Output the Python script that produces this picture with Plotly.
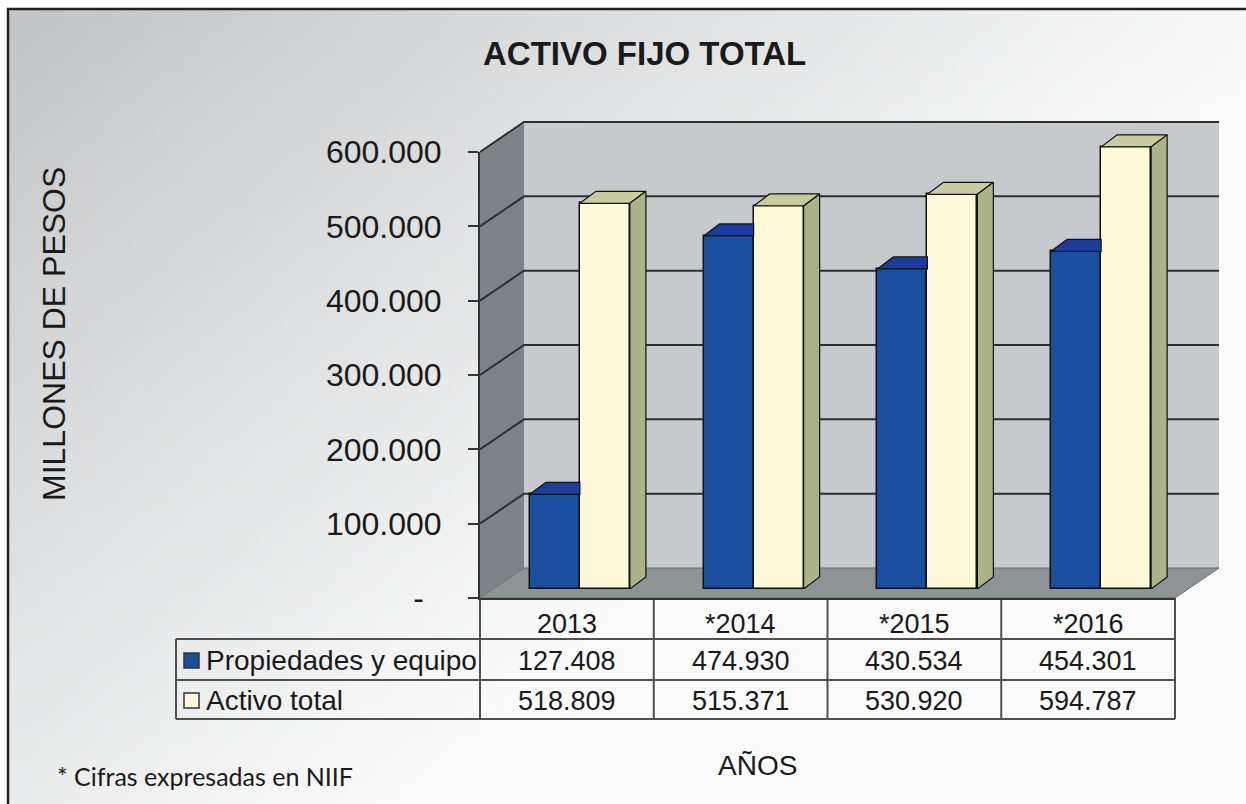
import base64
import struct
import zlib

import numpy as np
import plotly.graph_objects as go

# ---------------- data ----------------
years = ["2013", "*2014", "*2015", "*2016"]
propiedades_y_equipo = [127408, 474930, 430534, 454301]
activo_total = [518809, 515371, 530920, 594787]
series_names = ["Propiedades y equipo", "Activo total"]
y_tick_values = [0, 100000, 200000, 300000, 400000, 500000, 600000]
y_tick_labels = ["-", "100.000", "200.000", "300.000", "400.000", "500.000", "600.000"]

# ---------------- geometry / style ----------------
W, H = 1246, 804
FX0, FX1 = 480, 1175          # front plane x extent (pixels)
FY0, FY1 = 598, 152           # front plane y pixel for 0 and YMAX
YMAX = 600000
NCAT = len(years)
CAT_W = (FX1 - FX0) / NCAT
SC = (FY0 - FY1) / YMAX       # pixels per unit
BACK = (44, -30)              # back wall offset
BARP = (13, -9)               # bar plane offset
DEPTH = (16, -12)             # bar depth
BAR_PX = 50

FONT = "Liberation Sans, Arial, sans-serif"
TXT = "#1a1a1a"
BLUE, BLUE_TOP = "#1a4ea1", "#1c3d9b"
CREAM, CREAM_TOP, CREAM_SIDE = "#fdf9d9", "#c9cc9e", "#acb389"
GRID = "#2e2e2e"
TABLE_LINE = "#505050"


def fp(plane, cx, v):
    """category coordinate + value -> pixel, in a plane offset."""
    return (FX0 + (cx + 0.5) * CAT_W + plane[0], FY0 - v * SC + plane[1])


def path(points, close=True):
    s = "M " + " L ".join(f"{X / W:.5f},{1 - Y / H:.5f}" for X, Y in points)
    return s + (" Z" if close else "")


FRONT = (0, 0)
shapes = []

# ---------------- background gradient image ----------------
gw, gh = 96, 62
u = np.linspace(0, 1, gw)[None, :]
v = np.linspace(0, 1, gh)[:, None]
s = np.clip(0.95 * u + 0.72 * v, 0, 1)
L = 198 + 53 * s
img = np.stack([L - 3 * (1 - s), L, L + 2 * (1 - s)], axis=-1)
img = np.clip(img, 0, 255).astype(np.uint8)
raw = b"".join(b"\x00" + img[j].tobytes() for j in range(gh))


def chunk(tag, data):
    return struct.pack(">I", len(data)) + tag + data + struct.pack(">I", zlib.crc32(tag + data) & 0xFFFFFFFF)


png = (b"\x89PNG\r\n\x1a\n" + chunk(b"IHDR", struct.pack(">IIBBBBB", gw, gh, 8, 2, 0, 0, 0))
       + chunk(b"IDAT", zlib.compress(raw)) + chunk(b"IEND", b""))
bg_src = "data:image/png;base64," + base64.b64encode(png).decode()

# frame
shapes.append(dict(type="path", xref="paper", yref="paper", layer="below",
                   path=path([(8, H + 5), (8, 9), (W + 5, 9)], close=False),
                   line=dict(color="#222222", width=2.5)))

# ---------------- walls / floor ----------------
xl, xr = -0.5, NCAT - 0.5
shapes.append(dict(type="path", xref="paper", yref="paper", layer="below",
                   path=path([fp(BACK, xl, 0), fp(BACK, xr, 0), fp(BACK, xr, YMAX), fp(BACK, xl, YMAX)]),
                   fillcolor="#c7cacc", line=dict(width=0)))
shapes.append(dict(type="path", xref="paper", yref="paper", layer="below",
                   path=path([fp(FRONT, xl, 0), fp(FRONT, xl, YMAX), fp(BACK, xl, YMAX), fp(BACK, xl, 0)]),
                   fillcolor="#7d8489", line=dict(width=0)))
shapes.append(dict(type="path", xref="paper", yref="paper", layer="below",
                   path=path([fp(FRONT, xl, 0), fp(FRONT, xr, 0), fp(BACK, xr, 0), fp(BACK, xl, 0)]),
                   fillcolor="#8e9396", line=dict(color="#6a6f72", width=1)))
for tv in y_tick_values[1:]:
    shapes.append(dict(type="path", xref="paper", yref="paper", layer="below",
                       path=path([fp(FRONT, xl, tv), fp(BACK, xl, tv), fp(BACK, xr, tv)], close=False),
                       line=dict(color=GRID, width=2)))

# ---------------- table ----------------
ROW_Y = [598, 639, 680, 719]
LEG_X0 = 176
for k in range(NCAT + 1):
    X = FX0 + k * CAT_W
    shapes.append(dict(type="line", xref="paper", yref="paper", layer="below",
                       x0=X / W, x1=X / W, y0=1 - ROW_Y[0] / H, y1=1 - ROW_Y[-1] / H,
                       line=dict(color=TABLE_LINE, width=2)))
shapes.append(dict(type="line", xref="paper", yref="paper", layer="below",
                   x0=LEG_X0 / W, x1=LEG_X0 / W, y0=1 - ROW_Y[1] / H, y1=1 - ROW_Y[-1] / H,
                   line=dict(color=TABLE_LINE, width=2)))
for Y in ROW_Y[1:]:
    shapes.append(dict(type="line", xref="paper", yref="paper", layer="below",
                       x0=LEG_X0 / W, x1=FX1 / W, y0=1 - Y / H, y1=1 - Y / H,
                       line=dict(color=TABLE_LINE, width=2)))

annotations = []


def ann(text, X, Y, size, xanchor="center", family=FONT, angle=0):
    annotations.append(dict(text=text, x=X / W, y=1 - Y / H, xref="paper", yref="paper",
                            showarrow=False, xanchor=xanchor, yanchor="middle", textangle=angle,
                            font=dict(family=family, size=size, color=TXT)))


fmt = lambda val: f"{val:,}".replace(",", ".")
row_mid = [(ROW_Y[i] + ROW_Y[i + 1]) / 2 + 2 for i in range(3)]
row_mid[0] += 3
row_mid[1] -= 1
row_mid[2] -= 1
for i, yr in enumerate(years):
    cx = FX0 + (i + 0.5) * CAT_W
    ann(yr, cx, row_mid[0], 27)
    ann(fmt(propiedades_y_equipo[i]), cx, row_mid[1], 27)
    ann(fmt(activo_total[i]), cx, row_mid[2], 27)

for r, (name, col) in enumerate(zip(series_names, [BLUE, CREAM])):
    yc = row_mid[r + 1]
    shapes.append(dict(type="rect", xref="paper", yref="paper", layer="below",
                       x0=184 / W, x1=199 / W, y0=1 - (yc - 7.5) / H, y1=1 - (yc + 7.5) / H,
                       fillcolor=col, line=dict(color="#333333", width=1.5)))
    ann(name, 204, yc, 28, xanchor="left")

# titles
ann("<b>ACTIVO FIJO TOTAL</b>", 644, 54, 33)
ann("MILLONES DE PESOS", 54, 334, 32, angle=-90)
ann("AÑOS", 757, 765, 28)
ann("* Cifras expresadas en NIIF", 55, 776, 25, xanchor="left", family="Lato, Open Sans, sans-serif")

# ---------------- traces ----------------
fig = go.Figure()

# front-plane axis holder (for ticks)
fig.add_trace(go.Scatter(x=[0], y=[0], mode="markers", marker=dict(opacity=0),
                         hoverinfo="skip", showlegend=False, xaxis="x", yaxis="y"))

bw = BAR_PX / CAT_W
ddx = DEPTH[0] / CAT_W
ddy = -DEPTH[1] / SC
xc = list(range(NCAT))

fig.add_trace(go.Bar(x=xc, y=propiedades_y_equipo, width=bw, offset=-bw, name=series_names[0],
                     marker=dict(color=BLUE, line=dict(color="#111111", width=1.5)),
                     xaxis="x2", yaxis="y2", showlegend=False))
fig.add_trace(go.Bar(x=xc, y=activo_total, width=bw, offset=0, name=series_names[1],
                     marker=dict(color=CREAM, line=dict(color="#111111", width=1.5)),
                     xaxis="x2", yaxis="y2", showlegend=False))


def face(xs, ys, color):
    fig.add_trace(go.Scatter(x=xs + [xs[0]], y=ys + [ys[0]], mode="lines", fill="toself",
                             fillcolor=color, line=dict(color="#111111", width=1.2),
                             hoverinfo="skip", showlegend=False, xaxis="x2", yaxis="y2"))


for i in range(NCAT):
    hb, hy = propiedades_y_equipo[i], activo_total[i]
    x0, x1, x2 = i - bw, i, i + bw
    # blue bar: top (clipped by the taller cream bar in front of it)
    if hy >= hb + ddy:
        face([x0, x1, x1, x0 + ddx], [hb, hb, hb + ddy, hb + ddy], BLUE_TOP)
    else:
        face([x0, x1, x1 + ddx, x0 + ddx], [hb, hb, hb + ddy, hb + ddy], BLUE_TOP)
    # cream bar: top and side
    face([x1, x2, x2 + ddx, x1 + ddx], [hy, hy, hy + ddy, hy + ddy], CREAM_TOP)
    face([x2, x2 + ddx, x2 + ddx, x2], [0, ddy, hy + ddy, hy], CREAM_SIDE)

# ---------------- layout ----------------
bar_top_px = 95
bar_y0 = FY0 + BARP[1]
fig.update_layout(
    width=W, height=H, margin=dict(l=0, r=0, t=0, b=0, autoexpand=False),
    autosize=False,
    paper_bgcolor="white", plot_bgcolor="rgba(0,0,0,0)",
    showlegend=False, bargap=0,
    images=[dict(source=bg_src, xref="paper", yref="paper", x=8 / W, y=1 - 9 / H,
                 sizex=(W - 8) / W, sizey=(H - 9) / H, sizing="stretch",
                 xanchor="left", yanchor="top", layer="below")],
    shapes=shapes, annotations=annotations,
    xaxis=dict(domain=[FX0 / W, FX1 / W], range=[-0.5, NCAT - 0.5], showline=True,
               linecolor="#333333", linewidth=2, showticklabels=False, ticks="",
               showgrid=False, zeroline=False, fixedrange=True),
    yaxis=dict(domain=[1 - FY0 / H, 1 - FY1 / H], range=[0, YMAX], showline=True,
               linecolor="#333333", linewidth=2, ticks="outside", ticklen=10,
               tickcolor="#333333", tickwidth=2, tickvals=y_tick_values,
               ticktext=[t if t != "-" else "-\u2007" for t in y_tick_labels],
               tickfont=dict(family=FONT, size=32, color=TXT), ticklabelstandoff=20,
               showgrid=False, zeroline=False, fixedrange=True),
    xaxis2=dict(domain=[(FX0 + BARP[0]) / W, (FX1 + BARP[0]) / W], range=[-0.5, NCAT - 0.5],
                anchor="y2", visible=False, fixedrange=True),
    yaxis2=dict(domain=[1 - bar_y0 / H, 1 - bar_top_px / H], range=[0, (bar_y0 - bar_top_px) / SC],
                anchor="x2", visible=False, fixedrange=True),
)

fig.write_html("out.html", config={"responsive": False, "displayModeBar": False},
               post_script="document.body.style.margin='0';document.body.style.padding='0';"
                           "document.documentElement.style.overflow='hidden';")
